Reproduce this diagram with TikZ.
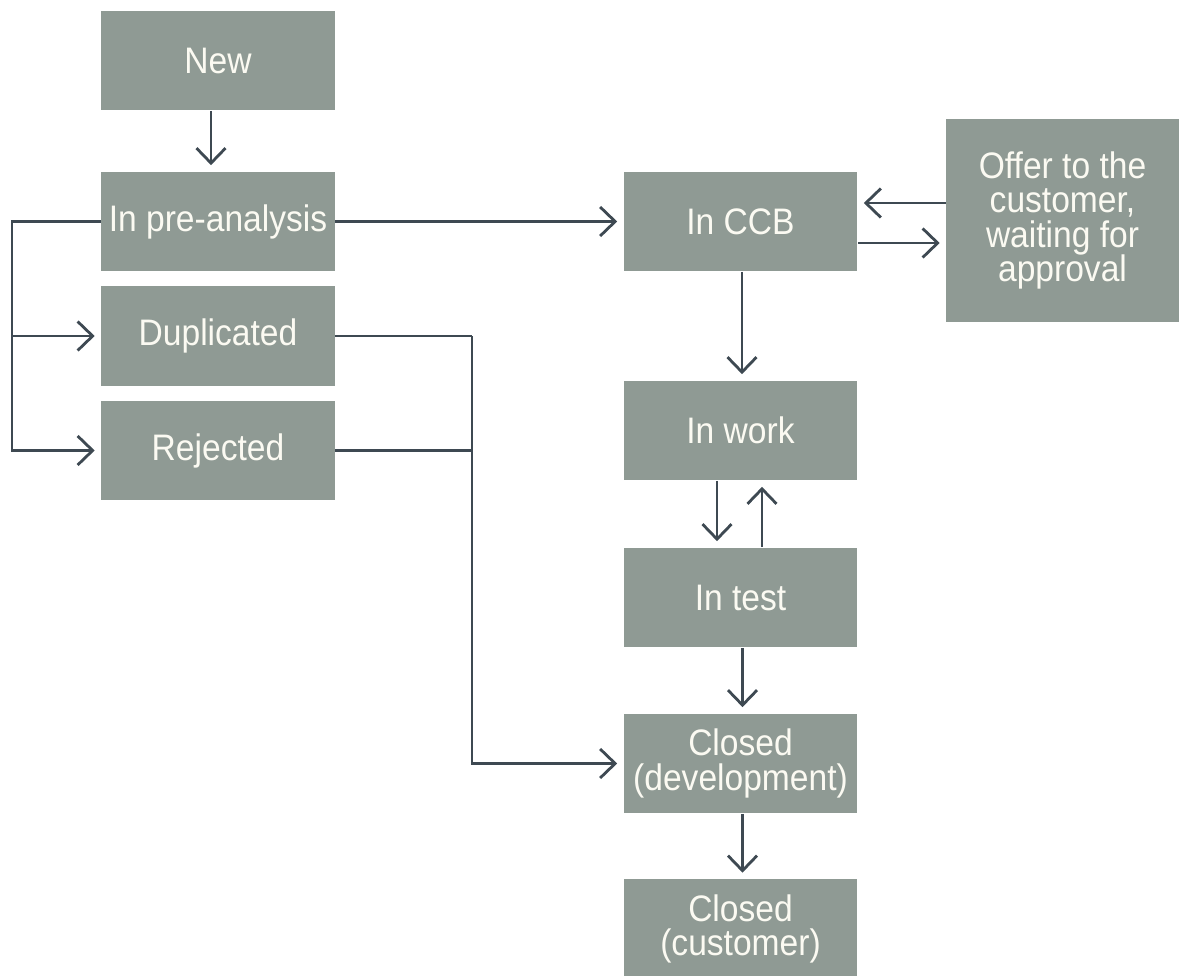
\documentclass[tikz,border=0pt]{standalone}
\usepackage{fontspec}
\setmainfont{Liberation Sans}[FakeStretch=0.91]
\usetikzlibrary{arrows.meta,calc}
\definecolor{boxgray}{HTML}{8F9A94}
\definecolor{linegray}{HTML}{3E4952}
\definecolor{txt}{HTML}{FBFAF2}
\tikzset{
  statebox/.style={rectangle, fill=boxgray, text=txt, inner sep=0pt, align=center,
    minimum width=4.68cm, minimum height=2.0cm,
    font=\fontsize{21}{19.6}\selectfont},
  conn/.style={draw=linegray, line width=1.6pt},
  arr/.style={conn, -{Straight Barb[length=0.3cm, width=0.58cm, line width=1.6pt]}, shorten >=0.12cm},
}
\begin{document}
\begin{tikzpicture}[x=0.02cm, y=-0.02cm]
\useasboundingbox (0,0) rectangle (1179,976);
\node[statebox] (new) at (218,60.5) {New};
\node[statebox] (pre) at (218,221.5) {In pre-analysis};
\node[statebox] (dup) at (218,336) {Duplicated};
\node[statebox] (rej) at (218,450.5) {Rejected};
\node[statebox] (ccb) at (740.5,221.5) {In CCB};
\node[statebox, minimum width=4.66cm, minimum height=4.06cm] (offer) at (1062.5,220.5) {Offer to the\\customer,\\waiting for\\approval};
\node[statebox] (work) at (740.5,430.5) {In work};
\node[statebox] (test) at (740.5,597.5) {In test};
\node[statebox] (cdev) at (740.5,763.5) {Closed\\(development)};
\node[statebox] (ccust) at (740.5,929) {Closed\\(customer)};

% New -> pre-analysis
\draw[arr] ($(new.south)+(-7,0)$) -- ($(pre.north)+(-7,0)$);
% pre-analysis -> CCB
\draw[arr] (pre.east) -- (ccb.west);
% left loop
\coordinate (L) at (12,221.5);
\draw[arr] (pre.west) -- (L) |- (rej.west);
\draw[arr] (L |- dup.west) -- (dup.west);
% right collector
\coordinate (R) at (472,336);
\draw[conn] (dup.east) -- (R);
\draw[conn] (rej.east) -- (R |- rej.east);
\draw[arr] (R) |- (cdev.west);
% CCB <-> offer
\draw[arr] ($(offer.west)+(0,-17.5)$) -- ($(offer.west -| ccb.east)+(0,-17.5)$);
\draw[arr] ($(ccb.east)+(0,21.5)$) -- ($(ccb.east -| offer.west)+(0,21.5)$);
% CCB -> work
\draw[arr] ($(ccb.south)+(1.5,0)$) -- ($(work.north)+(1.5,0)$);
% work <-> test
\draw[arr] ($(work.south)+(-23.5,0)$) -- ($(test.north)+(-23.5,0)$);
\draw[arr] ($(test.north)+(21.5,0)$) -- ($(work.south)+(21.5,0)$);
% test -> closed dev -> closed customer
\draw[arr] ($(test.south)+(2,0)$) -- ($(cdev.north)+(2,0)$);
\draw[arr] ($(cdev.south)+(2,0)$) -- ($(ccust.north)+(2,0)$);
\end{tikzpicture}
\end{document}
